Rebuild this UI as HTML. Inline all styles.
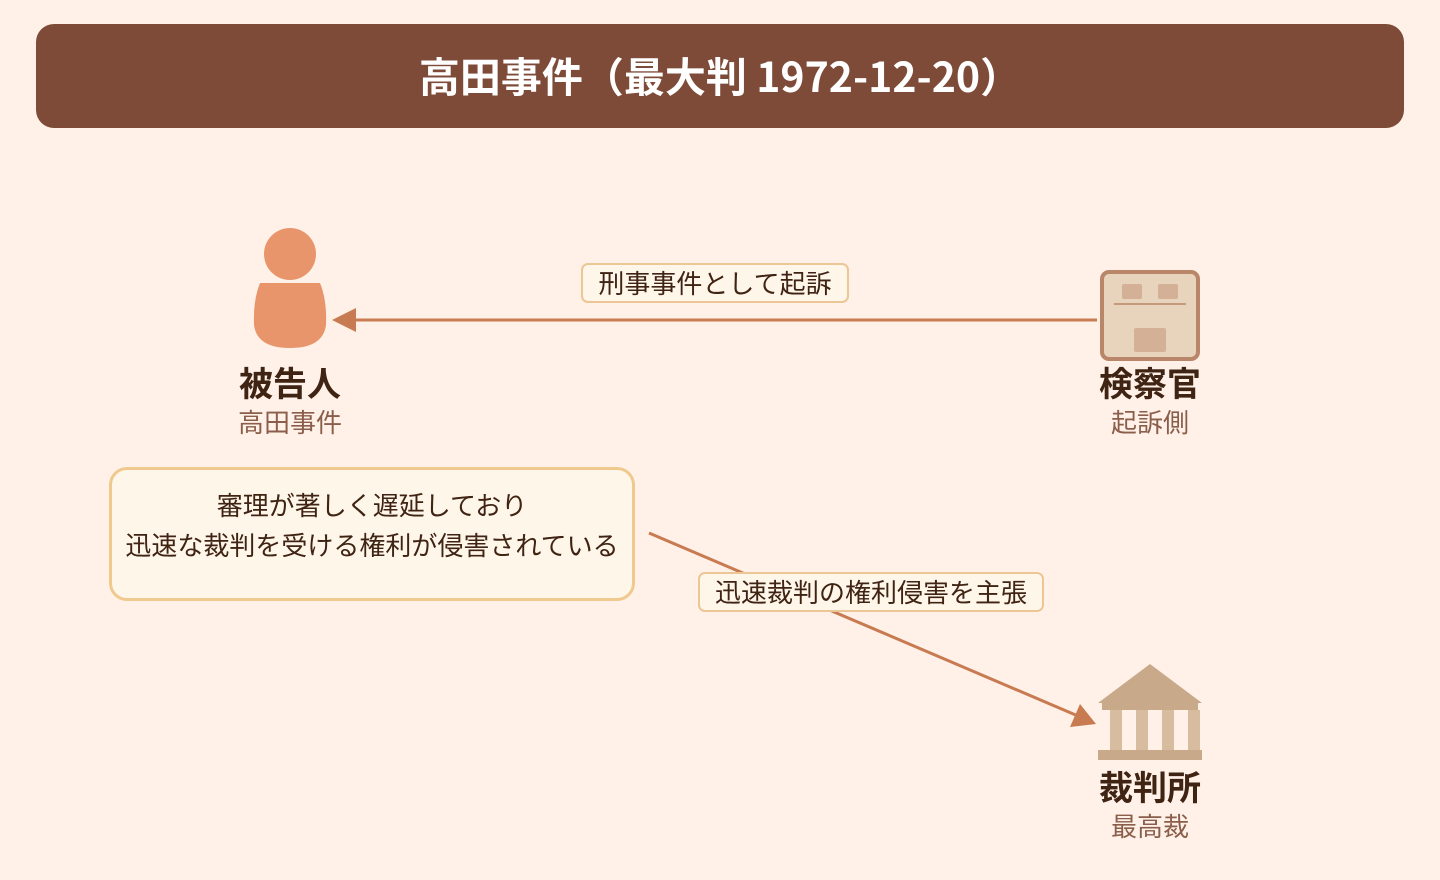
<!DOCTYPE html>
<html><head><meta charset="utf-8"><style>
body{margin:0;width:1440px;height:880px;background:#fff1e8;font-family:"Noto Sans CJK JP","Liberation Sans",sans-serif;overflow:hidden;position:relative}
.hdr{position:absolute;left:36px;top:24px;width:1368px;height:104px;background:#7f4b39;border-radius:18px;color:#fff;font-size:41px;font-weight:bold;text-align:center;line-height:100px;white-space:nowrap}
.t{position:absolute;text-align:center;white-space:nowrap}
.nm{font-size:34px;font-weight:bold;color:#3f2313;line-height:44px}
.sb{font-size:26px;color:#8a5e4a;line-height:34px}
.lbl{position:absolute;background:#fff6ea;border:2px solid #ecc695;border-radius:7px;font-size:26px;color:#3f2313;text-align:center;line-height:36px;white-space:nowrap}
.note{position:absolute;left:109px;top:467px;width:526px;height:134px;border:3px solid #f0c98f;border-radius:18px;background:#fff6ea;font-size:26px;color:#3f2313;text-align:center;line-height:40px;box-sizing:border-box;padding-top:15px;white-space:nowrap}
</style></head><body>
<div class="hdr">高田事件（最大判 1972-12-20）</div>
<svg width="1440" height="880" style="position:absolute;left:0;top:0">
<line x1="1097" y1="320" x2="352" y2="320" stroke="#c87a50" stroke-width="3"/>
<polygon points="332,320 356,308 356,332" fill="#c87a50"/>
<line x1="649" y1="533" x2="1078" y2="716" stroke="#c87a50" stroke-width="3"/>
<polygon points="1096,724 1070,727 1080,704" fill="#c87a50"/>
<circle cx="290" cy="254" r="26" fill="#e8956b"/>
<path d="M260 283 L320 283 Q327 300 326 325 Q323 348 290 348 Q257 348 254 325 Q253 300 260 283Z" fill="#e8956b"/>
<rect x="1102" y="272" width="96" height="87" rx="7" fill="#e8d3bd" stroke="#b9866a" stroke-width="4"/>
<rect x="1122" y="284" width="20" height="15" rx="2" fill="#d4b096"/>
<rect x="1158" y="284" width="20" height="15" rx="2" fill="#d4b096"/>
<rect x="1114" y="303" width="72" height="2" fill="#c49a7c"/>
<rect x="1134" y="328" width="32" height="24" rx="2" fill="#d4b096"/>
<polygon points="1150,664 1202,703 1098,703" fill="#c8a98a"/>
<rect x="1102" y="703" width="96" height="7" fill="#c8a98a"/>
<rect x="1110" y="710" width="12" height="40" fill="#d7bc9f"/>
<rect x="1136" y="710" width="12" height="40" fill="#d7bc9f"/>
<rect x="1162" y="710" width="12" height="40" fill="#d7bc9f"/>
<rect x="1188" y="710" width="12" height="40" fill="#d7bc9f"/>
<rect x="1098" y="750" width="104" height="10" fill="#c8a98a"/>
</svg>
<div class="t nm" style="left:190px;width:200px;top:360px">被告人</div>
<div class="t sb" style="left:190px;width:200px;top:405px">高田事件</div>
<div class="t nm" style="left:1050px;width:200px;top:360px">検察官</div>
<div class="t sb" style="left:1050px;width:200px;top:405px">起訴側</div>
<div class="t nm" style="left:1050px;width:200px;top:764px">裁判所</div>
<div class="t sb" style="left:1050px;width:200px;top:809px">最高裁</div>
<div class="lbl" style="left:581px;top:263px;width:264px">刑事事件として起訴</div>
<div class="lbl" style="left:698px;top:572px;width:342px">迅速裁判の権利侵害を主張</div>
<div class="note">審理が著しく遅延しており<br>迅速な裁判を受ける権利が侵害されている</div>
</body></html>
